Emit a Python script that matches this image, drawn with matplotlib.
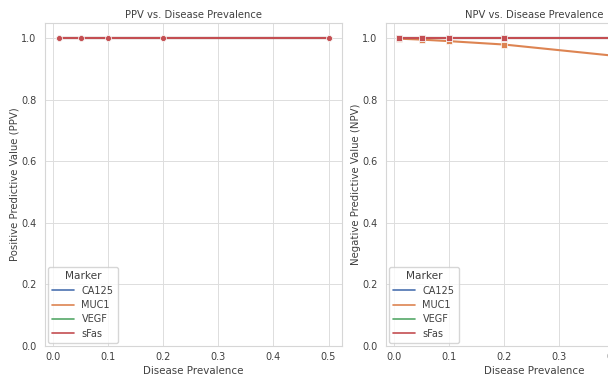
import matplotlib
matplotlib.use('Agg')
import matplotlib.pyplot as plt
import seaborn as sns

# --- dados ---
prevalence = [0.01, 0.05, 0.1, 0.2, 0.5]
markers_names = ['CA125', 'MUC1', 'VEGF', 'sFas']
ppv = {
    'CA125': [1.0, 1.0, 1.0, 1.0, 1.0],
    'MUC1': [1.0, 1.0, 1.0, 1.0, 1.0],
    'VEGF': [1.0, 1.0, 1.0, 1.0, 1.0],
    'sFas': [1.0, 1.0, 1.0, 1.0, 1.0],
}
npv = {
    'CA125': [1.0, 1.0, 1.0, 1.0, 1.0],
    'MUC1': [0.999, 0.996, 0.991, 0.980, 0.925],
    'VEGF': [1.0, 1.0, 1.0, 1.0, 1.0],
    'sFas': [1.0, 1.0, 1.0, 1.0, 1.0],
}

sns.set_theme(style='whitegrid')
colors = sns.color_palette('deep', 4)
txt = '.25'

W, H = 608, 381
fig = plt.figure(figsize=(W / 100, H / 100), dpi=100)

# eixo direito fica cortado pela borda da figura (como na referencia)
ax1 = fig.add_axes([45 / W, 1 - 346 / H, 297 / W, 323 / H])
ax2 = fig.add_axes([386 / W, 1 - 346 / H, 297 / W, 323 / H])

panels = [
    (ax1, ppv, 'o', 'PPV vs. Disease Prevalence', 'Positive Predictive Value (PPV)'),
    (ax2, npv, 's', 'NPV vs. Disease Prevalence', 'Negative Predictive Value (NPV)'),
]

for ax, data, mk, title, ylabel in panels:
    for name, c in zip(markers_names, colors):
        ax.plot(prevalence, data[name], color=c, lw=1.5, marker=mk,
                markersize=4.3, markeredgecolor='white', markeredgewidth=0.5,
                label=name)
    ax.set_ylim(0, 1.05)
    ax.set_title(title, fontsize=7.2, color=txt, pad=3.5)
    ax.set_xlabel('Disease Prevalence', fontsize=7.4, color=txt, labelpad=3)
    ax.set_ylabel(ylabel, fontsize=7.3, color=txt, labelpad=1)
    ax.tick_params(axis='x', length=0, labelsize=7, labelcolor=txt, pad=4.5)
    ax.tick_params(axis='y', length=0, labelsize=7, labelcolor=txt, pad=6)
    for s in ax.spines.values():
        s.set_linewidth(0.8)
        s.set_edgecolor('#d6d6d6')
    ax.grid(linewidth=0.7, color='#dddddd')
    leg = ax.legend(title='Marker', loc='lower left', fontsize=7,
                    title_fontsize=7.6, handlelength=2.2, borderpad=0.45,
                    labelspacing=0.45, borderaxespad=0.3, handletextpad=0.8)
    leg.get_title().set_color(txt)
    for t in leg.get_texts():
        t.set_color(txt)
    for h in leg.get_lines():
        h.set_marker('')
        h.set_linewidth(1.2)

fig.savefig('out.png', dpi=100)
